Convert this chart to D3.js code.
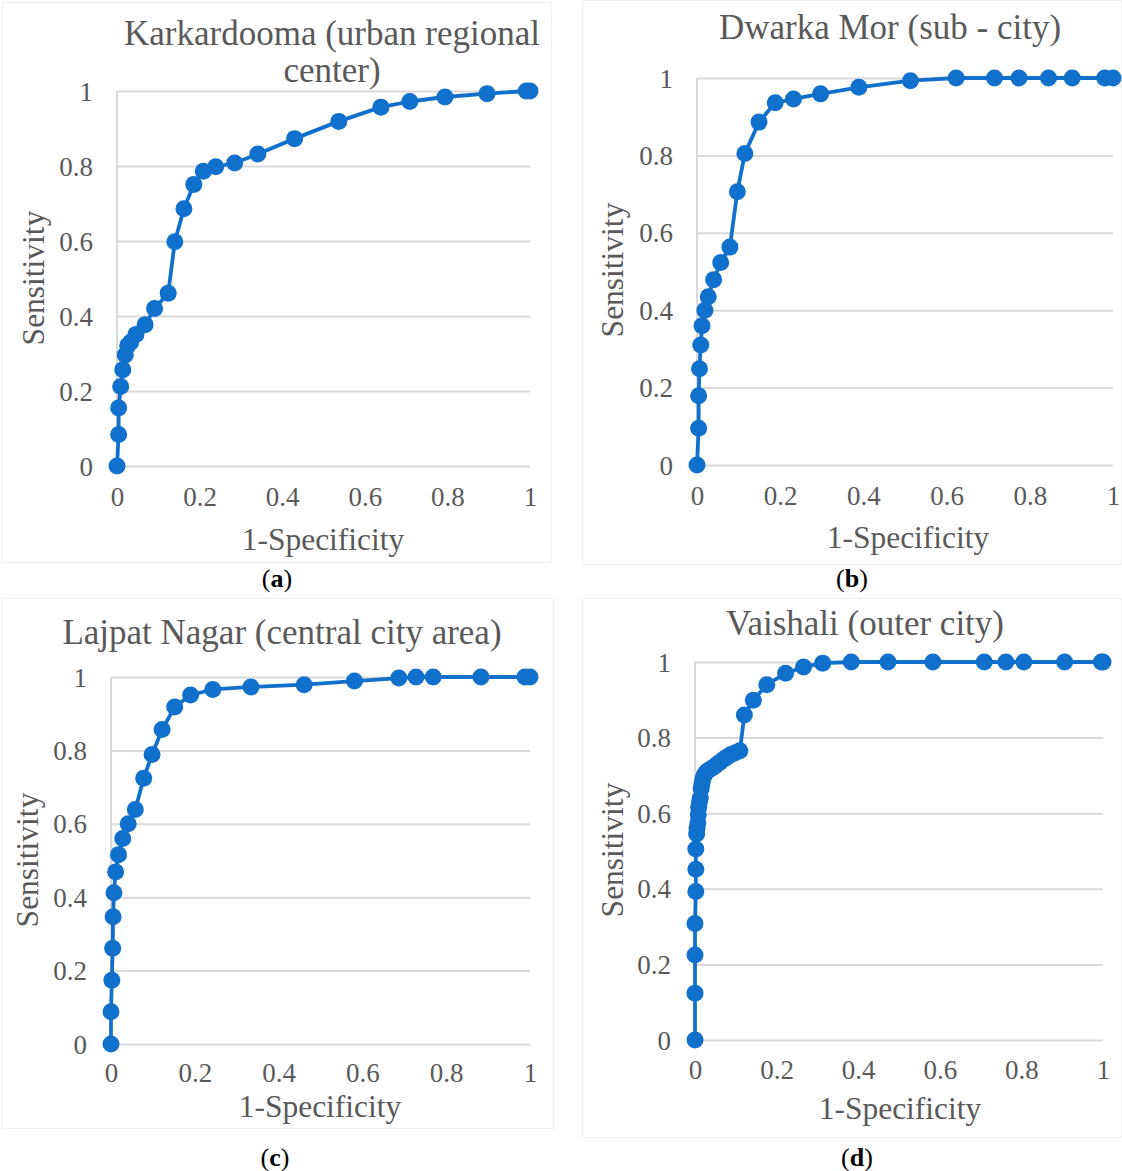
<!DOCTYPE html>
<html><head><meta charset="utf-8">
<script src="https://cdn.jsdelivr.net/npm/d3@7"></script>
<style>html,body{margin:0;padding:0;background:#fff;}svg{display:block;}</style>
</head><body>
<script>
// ---- data ----
const xTicks = [0, 0.2, 0.4, 0.6, 0.8, 1];
const yTicks = [0, 0.2, 0.4, 0.6, 0.8, 1];
const xAxisTitle = "1-Specificity";
const yAxisTitle = "Sensitivity";
const titles = [["Karkardooma (urban regional", "center)"], ["Dwarka Mor (sub - city)"], ["Lajpat Nagar (central city area)"], ["Vaishali (outer city)"]];
const captions = ["a", "b", "c", "d"];

const aX = [0,0.004,0.004,0.009,0.014,0.02,0.026,0.033,0.046,0.068,0.091,0.124,0.14,0.162,0.186,0.209,0.239,0.285,0.341,0.43,0.537,0.639,0.709,0.794,0.896,0.991,1];
const aY = [0,0.084,0.155,0.212,0.257,0.296,0.321,0.33,0.351,0.377,0.42,0.461,0.598,0.686,0.751,0.786,0.798,0.808,0.832,0.873,0.919,0.957,0.972,0.984,0.993,1,1];

const bX = [0,0.004,0.004,0.006,0.009,0.012,0.019,0.027,0.04,0.057,0.079,0.097,0.115,0.149,0.188,0.232,0.297,0.389,0.513,0.623,0.715,0.774,0.845,0.902,0.98,1];
const bY = [0,0.095,0.179,0.249,0.31,0.36,0.40,0.435,0.479,0.523,0.563,0.706,0.805,0.886,0.936,0.946,0.959,0.976,0.993,1,1,1,1,1,1,1];

const cX = [0,0,0.002,0.004,0.005,0.007,0.011,0.018,0.028,0.041,0.058,0.078,0.098,0.122,0.152,0.19,0.243,0.334,0.461,0.581,0.687,0.728,0.769,0.883,0.988,1];
const cY = [0,0.088,0.174,0.261,0.347,0.412,0.469,0.516,0.56,0.60,0.639,0.724,0.789,0.857,0.918,0.951,0.966,0.973,0.979,0.989,0.997,1,1,1,1,1];

const dX = [0,0,0,0,0.002,0.002,0.002,0.004,0.005,0.007,0.008,0.009,0.011,0.013,0.015,0.017,0.019,0.022,0.026,0.032,0.04,0.047,0.053,0.061,0.07,0.079,0.088,0.099,0.11,0.121,0.143,0.176,0.222,0.266,0.313,0.383,0.473,0.583,0.709,0.762,0.806,0.906,0.996,1];
const dY = [0,0.124,0.225,0.308,0.393,0.452,0.505,0.545,0.56,0.575,0.596,0.616,0.63,0.64,0.665,0.678,0.689,0.70,0.707,0.713,0.718,0.723,0.728,0.735,0.743,0.749,0.755,0.76,0.765,0.86,0.899,0.94,0.97,0.987,0.997,1,1,1,1,1,1,1,1,1];

const seriesX = [aX, bX, cX, dX];
const seriesY = [aY, bY, cY, dY];

// ---- layout ----
const layouts = [
  {x0:117, x1:530, y0:466, y1:91, frame:[2,2,550,561], titleX:332, titleY:45, lineGap:37, yTitleX:33, yTitleY:278, xTitleX:323, xTitleY:550, capX:277, capY:587, tickPad:21},
  {x0:697, x1:1113, y0:465, y1:78, frame:[582,0,540,565], titleX:890, titleY:39, lineGap:37, yTitleX:612, yTitleY:270, xTitleX:908, xTitleY:548, capX:852, capY:587, tickPad:21},
  {x0:111, x1:530, y0:1044, y1:677, frame:[2,598,552,531], titleX:282, titleY:644, lineGap:37, yTitleX:27, yTitleY:860, xTitleX:320, xTitleY:1117, capX:275, capY:1166, tickPad:19},
  {x0:695, x1:1103, y0:1040, y1:662, frame:[582,598,540,540], titleX:865, titleY:635, lineGap:37, yTitleX:612, yTitleY:850, xTitleX:900, xTitleY:1119, capX:857, capY:1166, tickPad:20}
];

const W = 1122, H = 1171;
const serif = "'Liberation Serif', 'Times New Roman', serif";
const textCol = "#595959";
const blue = "#1170CC";
const grid = "#d9d9d9";

const svg = d3.select("body").append("svg").attr("width", W).attr("height", H).attr("viewBox", `0 0 ${W} ${H}`);
svg.append("rect").attr("width", W).attr("height", H).attr("fill", "#fff");

const fmt = d => d === 0 ? "0" : d === 1 ? "1" : String(d);

layouts.forEach((L, i) => {
  const g = svg.append("g");
  g.append("rect").attr("x", L.frame[0] + 0.5).attr("y", L.frame[1] + 0.5)
    .attr("width", L.frame[2] - 1).attr("height", L.frame[3] - 1)
    .attr("fill", "none").attr("stroke", "#f0f0f0").attr("stroke-width", 1);

  const x = d3.scaleLinear().domain([0, 1]).range([L.x0, L.x1]);
  const y = d3.scaleLinear().domain([0, 1]).range([L.y0, L.y1]);

  const gy = g.append("g").attr("transform", `translate(${L.x0},0)`)
    .call(d3.axisLeft(y).tickValues(yTicks).tickSize(-(L.x1 - L.x0)).tickFormat(fmt).tickPadding(24));
  gy.select(".domain").remove();
  gy.selectAll(".tick line").attr("stroke", grid).attr("stroke-width", 2);
  gy.selectAll(".tick text").attr("fill", textCol).attr("font-family", serif).attr("font-size", 27).attr("dy", "0.34em");

  g.append("line").attr("x1", L.x0).attr("x2", L.x0).attr("y1", L.y1).attr("y2", L.y0)
    .attr("stroke", grid).attr("stroke-width", 2);

  const gx = g.append("g").attr("transform", `translate(0,${L.y0})`)
    .call(d3.axisBottom(x).tickValues(xTicks).tickSize(0).tickFormat(fmt).tickPadding(L.tickPad));
  gx.select(".domain").remove();
  gx.selectAll(".tick text").attr("fill", textCol).attr("font-family", serif).attr("font-size", 27).attr("dy", "0.71em");

  const t = g.append("text").attr("text-anchor", "middle").attr("fill", textCol)
    .attr("font-family", serif).attr("font-size", 35);
  titles[i].forEach((line, k) => {
    t.append("tspan").attr("x", L.titleX).attr("y", L.titleY + k * L.lineGap).text(line);
  });

  g.append("text").attr("x", L.xTitleX).attr("y", L.xTitleY).attr("text-anchor", "middle")
    .attr("fill", textCol).attr("font-family", serif).attr("font-size", 31.5).text(xAxisTitle);
  g.append("text").attr("transform", `translate(${L.yTitleX},${L.yTitleY}) rotate(-90)`)
    .attr("text-anchor", "middle").attr("dy", "0.35em")
    .attr("fill", textCol).attr("font-family", serif).attr("font-size", 31.5).text(yAxisTitle);

  const pts = seriesX[i].map((v, k) => [v, seriesY[i][k]]);
  g.append("path").datum(pts)
    .attr("d", d3.line().x(d => x(d[0])).y(d => y(d[1])))
    .attr("fill", "none").attr("stroke", blue).attr("stroke-width", 3.8).attr("stroke-linejoin", "round");
  g.selectAll("circle.pt").data(pts).join("circle").attr("class", "pt")
    .attr("cx", d => x(d[0])).attr("cy", d => y(d[1])).attr("r", 8.5).attr("fill", blue);

  const c = svg.append("text").attr("x", L.capX).attr("y", L.capY).attr("text-anchor", "middle")
    .attr("fill", "#000").attr("font-family", serif).attr("font-size", 26);
  c.append("tspan").text("(");
  c.append("tspan").attr("font-weight", "bold").text(captions[i]);
  c.append("tspan").text(")");
});
</script>
</body></html>
